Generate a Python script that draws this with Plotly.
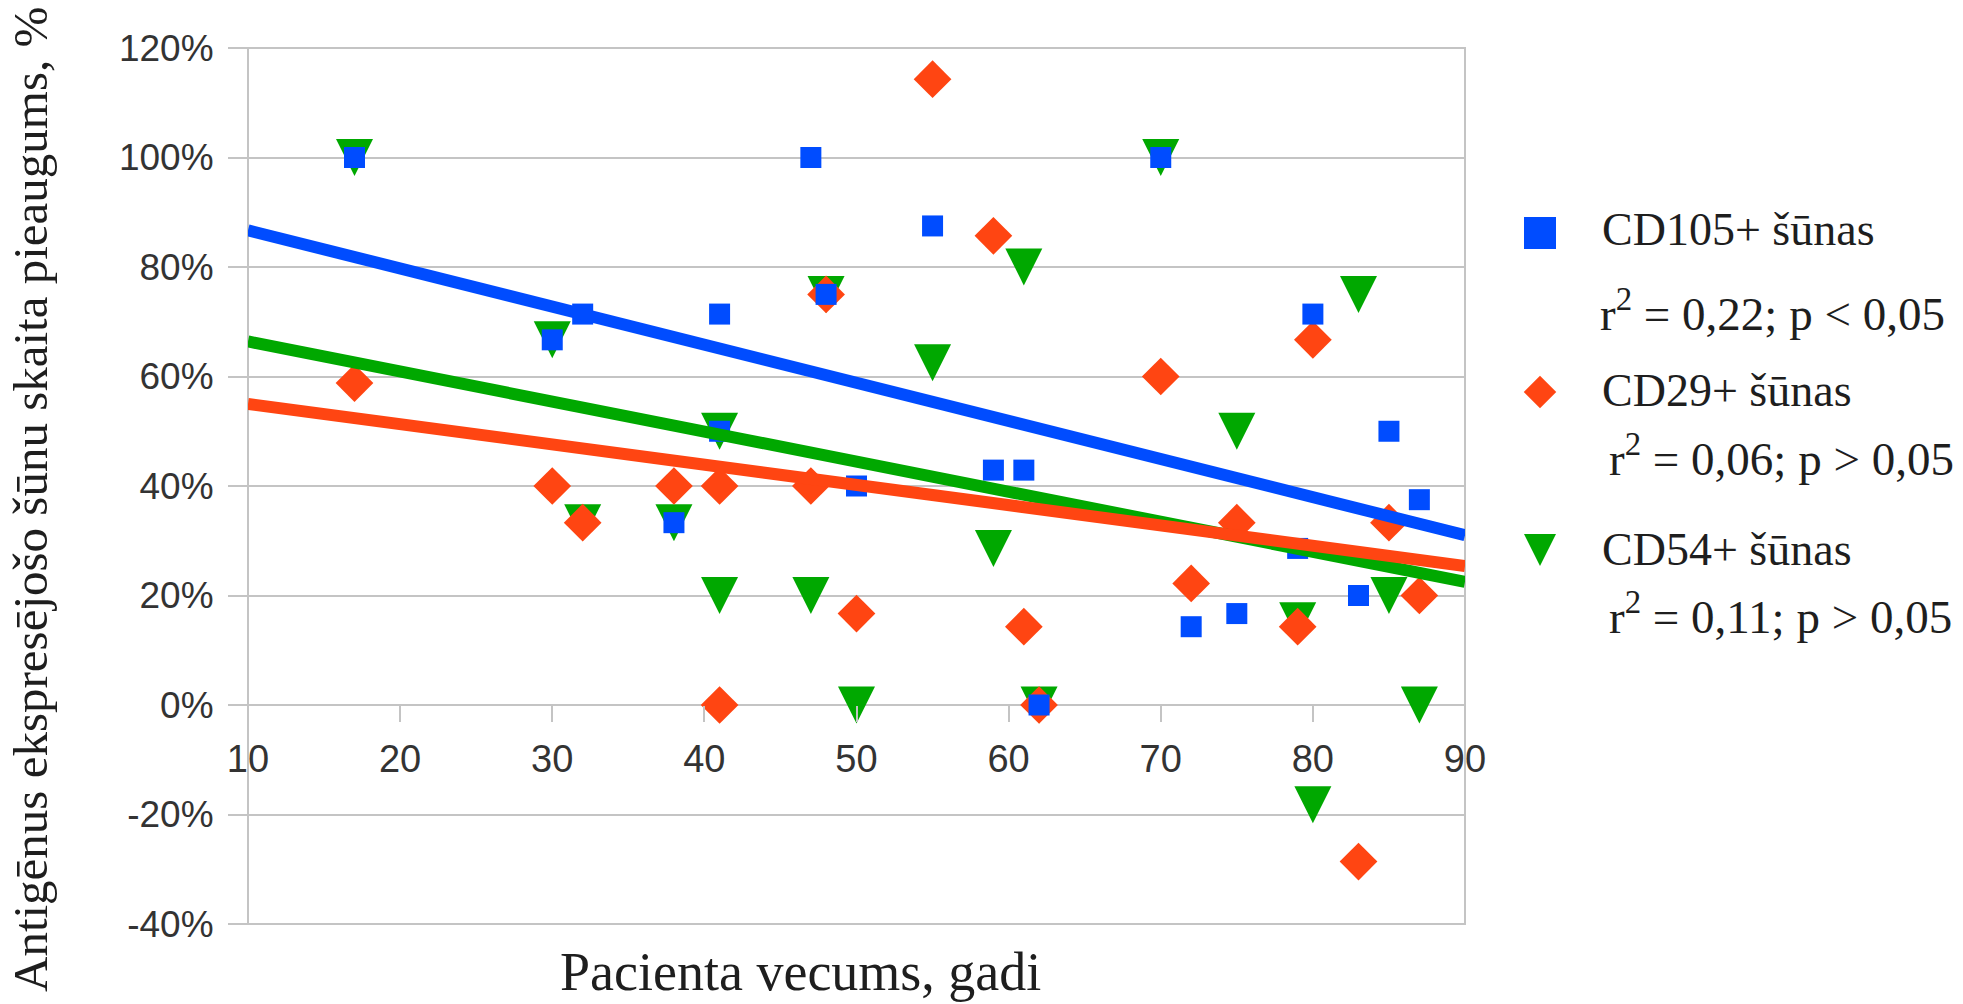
import plotly.graph_objects as go

W, H = 1963, 1004

# Patient age (years) vs. increase of antigen-expressing cell count (%)
age_cd105 = [17, 30, 32, 38, 41, 41, 47, 48, 50, 55, 59, 61, 62, 70, 72, 75, 79, 80, 83, 85, 87]
cd105 = [100, 66.7, 71.4, 33.3, 71.4, 50, 100, 75, 40, 87.5, 42.9, 42.9, 0, 100, 14.3, 16.7, 28.6, 71.4, 20, 50, 37.5]

age_cd29 = [17, 30, 32, 38, 41, 41, 47, 48, 50, 55, 59, 61, 62, 70, 72, 75, 79, 80, 83, 85, 87]
cd29 = [58.8, 40, 33.3, 40, 40, 0, 40, 75, 16.7, 114.3, 85.7, 14.3, 0, 60, 22.2, 33.3, 14.3, 66.7, -28.6, 33.3, 20]

age_cd54 = [17, 30, 32, 38, 41, 41, 47, 48, 50, 55, 59, 61, 62, 70, 75, 79, 80, 83, 85, 87]
cd54 = [100, 66.7, 33.3, 33.3, 50, 20, 20, 75, 0, 62.5, 28.6, 80, 0, 100, 50, 15.4, -18.2, 75, 20, 0]

# Linear trends evaluated at both ends of the age axis
trend_age = [10, 90]
trend_cd105 = [86.7, 31.0]
trend_cd29 = [55.0, 25.4]
trend_cd54 = [66.4, 22.5]

series_names = ["CD105+ šūnas", "CD29+ šūnas", "CD54+ šūnas"]
series_stats = [
    "r<sup>2</sup> = 0,22; p < 0,05",
    "r<sup>2</sup> = 0,06; p > 0,05",
    "r<sup>2</sup> = 0,11; p > 0,05",
]

x_ticks = list(range(10, 91, 10))
y_ticks = list(range(-40, 121, 20))
y_tick_labels = [f"{v}%" for v in y_ticks]

x_title = "Pacienta vecums, gadi"
y_title = "Antigēnus ekspresējošo šūnu skaita pieaugums, %"

# ---- styling ----
BLUE = "#004cff"
RED = "#ff4512"
GREEN = "#00a800"
GRID = "#c4c4c4"
TEXT = "#1e1e1e"
TICKTEXT = "#333333"
SERIF = "Liberation Serif, Times New Roman, serif"
SANS = "Liberation Sans, Arial, sans-serif"
NARROW = "Liberation Sans Narrow, Arial Narrow, Liberation Sans, sans-serif"

# plot area in pixels
L, R, T, B = 248, 1465, 48, 924
xdom = [L / W, R / W]
ydom = [1 - B / H, 1 - T / H]
Y_MIN, Y_MAX = -40, 120
x_axis_pos = ydom[0] + (0 - Y_MIN) / (Y_MAX - Y_MIN) * (ydom[1] - ydom[0])


def px(x):
    return x / W


def py(y):
    return 1 - y / H


SQUARE = dict(symbol="square", size=21, color=BLUE, line=dict(width=0))
DIAMOND = dict(symbol="diamond", size=29, color=RED, line=dict(width=0))
TRIANGLE = dict(symbol="arrow-down", size=37, standoff=18.5, color=GREEN, line=dict(width=0))

fig = go.Figure()

# markers (green under red under blue)
fig.add_trace(go.Scatter(x=age_cd54, y=cd54, mode="markers", marker=TRIANGLE,
                         name=series_names[2], cliponaxis=False))
fig.add_trace(go.Scatter(x=age_cd29, y=cd29, mode="markers", marker=DIAMOND,
                         name=series_names[1], cliponaxis=False))
fig.add_trace(go.Scatter(x=age_cd105, y=cd105, mode="markers", marker=SQUARE,
                         name=series_names[0], cliponaxis=False))

# trend lines on top
for ys, col in [(trend_cd54, GREEN), (trend_cd29, RED), (trend_cd105, BLUE)]:
    fig.add_trace(go.Scatter(x=trend_age, y=ys, mode="lines",
                             line=dict(color=col, width=12), hoverinfo="skip"))

# legend glyphs on a pixel-space overlay
legend_x = 1540
legend_y = [233, 392, 550]
legend_markers = [
    dict(SQUARE, size=32),
    dict(DIAMOND, size=25),
    dict(TRIANGLE, size=32, standoff=16),
]
for yy, mk in zip(legend_y, legend_markers):
    fig.add_trace(go.Scatter(x=[legend_x], y=[yy], mode="markers", marker=mk,
                             xaxis="x2", yaxis="y2", hoverinfo="skip", cliponaxis=False))

annotations = []
name_x = [1600, 1600, 1600]
name_y = [229, 390, 549]
stat_x = [1598, 1607, 1607]
stat_y = [311, 455, 613]
for i in range(3):
    annotations.append(dict(text=series_names[i], x=px(name_x[i]), y=py(name_y[i]),
                            xref="paper", yref="paper", xanchor="left", yanchor="middle",
                            showarrow=False, font=dict(family=SERIF, size=46, color=TEXT)))
    annotations.append(dict(text=series_stats[i], x=px(stat_x[i]), y=py(stat_y[i]),
                            xref="paper", yref="paper", xanchor="left", yanchor="middle",
                            showarrow=False, font=dict(family=SERIF, size=47, color=TEXT)))

annotations.append(dict(text=x_title, x=px(800), y=py(972), xref="paper", yref="paper",
                        xanchor="center", yanchor="middle", showarrow=False,
                        font=dict(family=SERIF, size=54, color=TEXT)))
annotations.append(dict(text=y_title, x=px(30), y=py(500), xref="paper", yref="paper",
                        xanchor="center", yanchor="middle", textangle=-90, showarrow=False,
                        font=dict(family=SERIF, size=49, color=TEXT)))

fig.update_layout(
    template="none",
    width=W, height=H,
    margin=dict(l=0, r=0, t=0, b=0, pad=0, autoexpand=False),
    paper_bgcolor="white", plot_bgcolor="rgba(0,0,0,0)",
    showlegend=False,
    xaxis=dict(domain=xdom, range=[10, 90], anchor="free", position=x_axis_pos,
               automargin=False,
               tickvals=x_ticks, ticks="outside", ticklen=16, tickwidth=2, tickcolor=GRID,
               showgrid=False, zeroline=False, showline=False,
               tickfont=dict(family=NARROW, size=38, color=TICKTEXT), ticklabelstandoff=4),
    yaxis=dict(domain=ydom, range=[Y_MIN, Y_MAX], anchor="x", automargin=False,
               tickvals=y_ticks, ticktext=y_tick_labels,
               ticks="outside", ticklen=19, tickwidth=2, tickcolor=GRID,
               showgrid=True, gridcolor=GRID, gridwidth=2, zeroline=False, showline=False,
               tickfont=dict(family=SANS, size=37, color=TICKTEXT), ticklabelstandoff=7),
    xaxis2=dict(domain=[0, 1], range=[0, W], visible=False, anchor="y2", automargin=False),
    yaxis2=dict(domain=[0, 1], range=[H, 0], visible=False, anchor="x2", automargin=False),
    annotations=annotations,
    shapes=[dict(type="rect", xref="x domain", yref="y domain", x0=0, x1=1, y0=0, y1=1,
                 line=dict(color=GRID, width=2), fillcolor="rgba(0,0,0,0)", layer="below")],
)

fig.write_html("out.html")
